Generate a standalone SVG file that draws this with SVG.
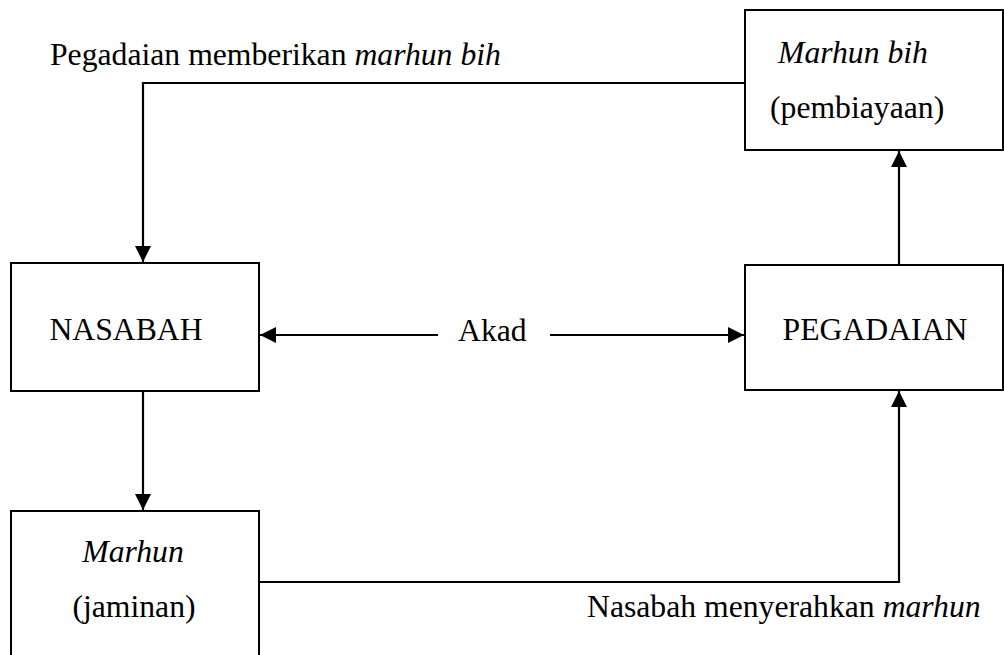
<svg xmlns="http://www.w3.org/2000/svg" width="1004" height="655" viewBox="0 0 1004 655">
<style>
.box{fill:#fff;stroke:#000;stroke-width:2}
.ln{fill:none;stroke:#000;stroke-width:2.2}
text{font-family:"Liberation Serif","Times New Roman",serif;font-size:31.7px;fill:#000}
.it{font-style:italic}
</style>
<defs>
<marker id="ah" viewBox="0 0 16 16" refX="16" refY="8" markerWidth="16" markerHeight="16" markerUnits="userSpaceOnUse" orient="auto">
<path d="M0,0 L16,8 L0,16 Z" fill="#000"/>
</marker>
</defs>
<rect width="1004" height="655" fill="#fff"/>
<g id="connectors">
<path class="ln" d="M745,83 H143 V262" marker-end="url(#ah)"/>
<path class="ln" d="M438,335 H260" marker-end="url(#ah)"/>
<path class="ln" d="M550,335 H744" marker-end="url(#ah)"/>
<path class="ln" d="M899,265 V151" marker-end="url(#ah)"/>
<path class="ln" d="M143,391 V510" marker-end="url(#ah)"/>
<path class="ln" d="M259,582 H899 V391" marker-end="url(#ah)"/>
<text x="50" y="65">Pegadaian memberikan <tspan class="it">marhun bih</tspan></text>
<text x="458" y="341">Akad</text>
<text x="587" y="617">Nasabah menyerahkan <tspan class="it">marhun</tspan></text>
</g>
<g id="marhun-bih">
<rect class="box" x="745" y="10" width="258" height="140"/>
<text class="it" x="778" y="63">Marhun bih</text>
<text x="770" y="118">(pembiayaan)</text>
</g>
<g id="nasabah">
<rect class="box" x="11" y="263" width="248" height="128"/>
<text x="126" y="340" text-anchor="middle">NASABAH</text>
</g>
<g id="pegadaian">
<rect class="box" x="745" y="265" width="258" height="125"/>
<text x="875" y="340" text-anchor="middle">PEGADAIAN</text>
</g>
<g id="marhun">
<rect class="box" x="11" y="511" width="248" height="150"/>
<text class="it" x="133" y="562" text-anchor="middle">Marhun</text>
<text x="134" y="617" text-anchor="middle">(jaminan)</text>
</g>
</svg>
